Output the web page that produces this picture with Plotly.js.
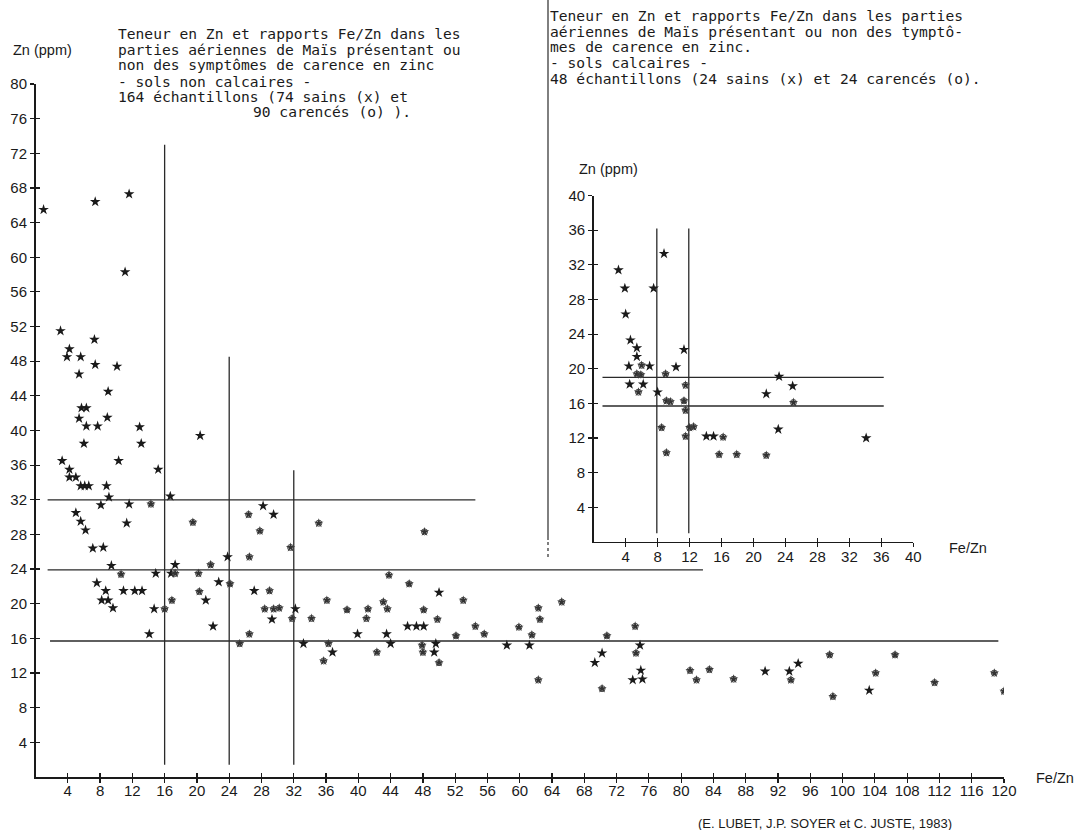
<!DOCTYPE html>
<html>
<head>
<meta charset="utf-8">
<script src="https://cdn.plot.ly/plotly-3.0.1.min.js"></script>
<style>html,body{margin:0;padding:0;background:#fff;}#chart{width:1078px;height:830px;}</style>
</head>
<body>
<div id="chart"></div>
<script>
// ---------- DATA : main chart (sols non calcaires) ----------
const mainSainsFeZn = [1.0,7.4,11.6,11.1,3.1,7.3,4.2,3.9,5.6,7.4,10.1,5.4,9.0,5.7,6.3,5.4,8.9,6.3,7.7,12.9,6.0,13.1,3.3,10.3,4.2,15.2,4.2,5.0,5.6,6.1,6.6,8.8,9.1,16.7,8.1,11.6,5.0,5.6,11.3,6.2,7.1,8.4,9.4,17.3,20.4,14.9,16.8,7.6,8.7,10.9,12.3,13.2,8.2,9.0,9.6,14.1,14.7,21.1,22.7,22.0,27.1,29.3,32.2,33.2,36.8,39.9,28.2,29.5,23.8,50.0,43.5,46.1,47.2,48.1,44.0,49.6,49.4,58.4,61.2,69.3,70.2,74.9,75.0,74.0,75.2,90.4,93.4,94.5,103.3];
const mainSainsZn   = [65.5,66.4,67.3,58.3,51.5,50.5,49.4,48.5,48.5,47.6,47.4,46.5,44.5,42.6,42.6,41.4,41.5,40.5,40.5,40.4,38.5,38.5,36.5,36.5,35.5,35.5,34.6,34.6,33.6,33.6,33.6,33.6,32.3,32.4,31.4,31.5,30.5,29.5,29.3,28.5,26.4,26.5,24.4,24.5,39.4,23.5,23.5,22.4,21.5,21.5,21.5,21.5,20.4,20.4,19.5,16.5,19.4,20.4,22.5,17.4,21.5,18.2,19.4,15.4,14.4,16.5,31.3,30.3,25.4,21.3,16.5,17.4,17.4,17.4,15.4,15.4,14.4,15.2,15.2,13.2,14.3,15.2,12.3,11.2,11.3,12.2,12.2,13.1,10.0];
const mainCarFeZn = [14.3,19.5,10.6,17.3,20.2,21.7,16.0,16.9,20.3,24.1,29.0,28.4,29.5,30.2,31.8,34.2,26.5,25.3,36.1,36.3,35.7,38.6,26.4,27.8,31.6,35.1,48.2,26.5,43.8,46.3,53.0,41.2,43.1,43.6,48.1,41.0,49.8,54.5,55.6,52.1,47.9,42.3,48.0,50.0,59.9,61.5,62.3,62.5,65.2,62.3,70.2,70.8,74.3,74.4,81.1,81.9,83.5,86.5,93.6,98.4,98.8,104.1,106.5,111.4,118.8,120.0];
const mainCarZn   = [31.5,29.4,23.4,23.5,23.5,24.5,19.4,20.4,21.4,22.3,21.5,19.4,19.4,19.5,18.3,18.3,16.5,15.4,20.4,15.4,13.4,19.3,30.3,28.4,26.5,29.3,28.3,25.4,23.3,22.3,20.4,19.4,20.2,19.4,19.3,18.3,18.2,17.4,16.5,16.3,15.2,14.4,14.4,13.2,17.3,16.4,19.5,18.2,20.2,11.2,10.2,16.3,17.4,14.3,12.3,11.2,12.4,11.3,11.2,14.1,9.3,12.0,14.1,10.9,12.0,9.9];
const mainXTicks = [4,8,12,16,20,24,28,32,36,40,44,48,52,56,60,64,68,72,76,80,84,88,92,96,100,104,108,112,116,120];
const mainYTicks = [4,8,12,16,20,24,28,32,36,40,44,48,52,56,60,64,68,72,76,80];
// threshold lines (main)
const mainVLineX = [16, 24, 32];
const mainVLineTop = [73, 48.5, 35.4];
const mainVLineBottom = [1.4, 1.4, 1.4];
const mainHLineY = [32, 23.9, 15.7];
const mainHLineStart = [1.5, 1.5, 1.8];
const mainHLineEnd = [54.5, 82.7, 119.3];

// ---------- DATA : inset chart (sols calcaires) ----------
const insetSainsFeZn = [8.8,3.1,3.9,7.5,4.0,4.6,5.4,5.4,4.4,7.0,10.3,11.3,4.5,6.2,8.0,14.1,15.0,21.6,23.2,24.9,23.1,34.1];
const insetSainsZn   = [33.3,31.4,29.3,29.3,26.3,23.3,22.4,21.4,20.3,20.3,20.2,22.2,18.2,18.2,17.3,12.2,12.2,17.1,19.1,18.0,13.0,12.0];
const insetCarFeZn = [6.0,5.4,5.9,9.0,5.6,11.5,9.1,9.6,11.3,11.5,8.5,12.0,12.5,11.5,9.1,16.2,15.7,17.9,21.6,25.0];
const insetCarZn   = [20.4,19.4,19.3,19.4,17.3,18.1,16.3,16.2,16.3,15.2,13.2,13.2,13.3,12.2,10.3,12.1,10.1,10.1,10.0,16.1];
const insetTicks = [4,8,12,16,20,24,28,32,36,40];
const insetVLineX = [7.9, 11.9];
const insetVLineTop = [36.2, 36.2];
const insetVLineBottom = [1, 1];
const insetHLineY = [19.0, 15.7];
const insetHLineStart = [1.1, 1.1];
const insetHLineEnd = [36.3, 36.3];

// ---------- TEXT ----------
const mainTitleLines = [
  "Teneur en Zn et rapports Fe/Zn dans les",
  "parties aériennes de Maïs présentant ou",
  "non des symptômes de carence en zinc",
  "- sols non calcaires -",
  "164 échantillons (74 sains (x) et",
  "90 carencés (o) )."
];
const insetTitleLines = [
  "Teneur en Zn et rapports Fe/Zn dans les parties",
  "aériennes de Maïs présentant ou non des tymptô-",
  "mes de carence en zinc.",
  "- sols calcaires -",
  "48 échantillons (24 sains (x) et 24 carencés (o)."
];
const citation = "(E. LUBET, J.P. SOYER et C. JUSTE, 1983)";
const yTitle = "Zn (ppm)";
const xTitle = "Fe/Zn";

// ---------- BUILD ----------
const W = 1078, H = 830;
const px = v => v / W;
const py = v => 1 - v / H;
const ink = '#1a1a1a';
const lineInk = '#2a2a2a';

const traces = [];
function refLines(xs, y0s, y1s, xa, ya, vertical) {
  xs.forEach((v, i) => {
    traces.push({
      type: 'scatter', mode: 'lines', xaxis: xa, yaxis: ya,
      x: vertical ? [v, v] : [y0s[i], y1s[i]],
      y: vertical ? [y0s[i], y1s[i]] : [v, v],
      line: {color: lineInk, width: 1.3}, hoverinfo: 'skip', showlegend: false
    });
  });
}
refLines(mainVLineX, mainVLineBottom, mainVLineTop, 'x', 'y', true);
refLines(mainHLineY, mainHLineStart, mainHLineEnd, 'x', 'y', false);
refLines(insetVLineX, insetVLineBottom, insetVLineTop, 'x2', 'y2', true);
refLines(insetHLineY, insetHLineStart, insetHLineEnd, 'x2', 'y2', false);

function sains(xs, ys, xa, ya) {
  traces.push({type:'scatter', mode:'markers', xaxis:xa, yaxis:ya, x:xs, y:ys,
    marker:{symbol:'star', size:8, color:ink, line:{width:0}}, showlegend:false, name:'sains'});
}
function carences(xs, ys, xa, ya) {
  traces.push({type:'scatter', mode:'markers', xaxis:xa, yaxis:ya, x:xs, y:ys,
    marker:{symbol:'star', size:7, color:'#333', line:{width:0}}, showlegend:false, name:'carencés'});
  traces.push({type:'scatter', mode:'markers', xaxis:xa, yaxis:ya, x:xs, y:ys,
    marker:{symbol:'circle-open', size:6, color:'#444', line:{width:1, color:'#444'}}, showlegend:false, hoverinfo:'skip'});
}
sains(mainSainsFeZn, mainSainsZn, 'x', 'y');
carences(mainCarFeZn, mainCarZn, 'x', 'y');
sains(insetSainsFeZn, insetSainsZn, 'x2', 'y2');
carences(insetCarFeZn, insetCarZn, 'x2', 'y2');
// carriers for the inner-tick overlay axes
traces.push({type:'scatter', mode:'markers', x:[null], y:[null], xaxis:'x3', yaxis:'y3', showlegend:false, hoverinfo:'skip'});
traces.push({type:'scatter', mode:'markers', x:[null], y:[null], xaxis:'x4', yaxis:'y4', showlegend:false, hoverinfo:'skip'});

const tickFont = {family:'Liberation Sans, Arial, sans-serif', size:15, color:ink};
const mainXDom = [px(35.5), px(1004)];
const mainYDom = [py(777), py(84)];
const insXDom = [px(593.7), px(913.3)];
const insYDom = [py(541.9), py(195.6)];

function baseAxis(dom, range, ticks, anchor, standoff) {
  return {domain: dom, range: range, anchor: anchor, tickmode:'array', tickvals: ticks,
    ticktext: ticks.map(String), showline:true, linecolor:ink, linewidth:1.5, ticks:'outside',
    ticklen:4, tickwidth:1.2, tickcolor:ink, showgrid:false, zeroline:false, tickfont:tickFont,
    ticklabelstandoff: standoff, fixedrange:true};
}
function innerAxis(over, dom, range, ticks, anchor, side) {
  return {overlaying: over, domain: dom, range: range, anchor: anchor, side: side, tickmode:'array',
    tickvals: ticks, showticklabels:false, showline:false, ticks:'inside', ticklen:4, tickwidth:1.2,
    tickcolor:ink, showgrid:false, zeroline:false, fixedrange:true};
}

const annotations = [];
const monoFont = {family:'DejaVu Sans Mono, Liberation Mono, monospace', size:14.6, color:ink};
const mainTitleY = [33, 50, 65, 81, 97, 112];
const mainTitleX = [117, 117, 117, 117, 117, 252];
mainTitleLines.forEach((t, i) => annotations.push({text:t, xref:'paper', yref:'paper',
  x:px(mainTitleX[i]) , y:py(mainTitleY[i]), xanchor:'left', yanchor:'middle', showarrow:false,
  font:monoFont, borderpad:0}));
const insetTitleY = [15, 31.7, 46.7, 62.7, 78.3];
insetTitleLines.forEach((t, i) => annotations.push({text:t, xref:'paper', yref:'paper',
  x:px(549), y:py(insetTitleY[i]), xanchor:'left', yanchor:'middle', showarrow:false,
  font:monoFont, borderpad:0}));
const labFont = {family:'Liberation Sans, Arial, sans-serif', size:14.5, color:ink};
annotations.push({text:yTitle, xref:'paper', yref:'paper', x:px(12), y:py(50), xanchor:'left', yanchor:'middle', showarrow:false, font:labFont, borderpad:0});
annotations.push({text:xTitle, xref:'paper', yref:'paper', x:px(1035), y:py(778), xanchor:'left', yanchor:'middle', showarrow:false, font:labFont, borderpad:0});
annotations.push({text:yTitle, xref:'paper', yref:'paper', x:px(578), y:py(169), xanchor:'left', yanchor:'middle', showarrow:false, font:labFont, borderpad:0});
annotations.push({text:xTitle, xref:'paper', yref:'paper', x:px(948), y:py(548), xanchor:'left', yanchor:'middle', showarrow:false, font:labFont, borderpad:0});
annotations.push({text:citation, xref:'paper', yref:'paper', x:px(697), y:py(823), xanchor:'left', yanchor:'middle', showarrow:false,
  font:{family:'Liberation Sans, Arial, sans-serif', size:13, color:ink}, borderpad:0});

const layout = {
  width: W, height: H,
  margin: {l:0, r:0, t:0, b:0, pad:0},
  paper_bgcolor:'#ffffff', plot_bgcolor:'rgba(0,0,0,0)',
  showlegend:false,
  xaxis: baseAxis(mainXDom, [0,120], mainXTicks, 'y', -5),
  yaxis: baseAxis(mainYDom, [0,80], mainYTicks, 'x', 0),
  xaxis2: baseAxis(insXDom, [0,40], insetTicks, 'y2', -3),
  yaxis2: baseAxis(insYDom, [0,40], insetTicks, 'x2', 0),
  xaxis3: innerAxis('x', mainXDom, [0,120], mainXTicks, 'y3', 'bottom'),
  yaxis3: innerAxis('y', mainYDom, [0,80], mainYTicks, 'x3', 'left'),
  xaxis4: innerAxis('x2', insXDom, [0,40], insetTicks, 'y4', 'bottom'),
  yaxis4: innerAxis('y2', insYDom, [0,40], insetTicks, 'x4', 'left'),
  annotations: annotations,
  shapes: [
    {type:'line', xref:'paper', yref:'paper', x0:px(548), x1:px(548), y0:py(0), y1:py(540), line:{color:lineInk, width:1.2}},
    {type:'line', xref:'paper', yref:'paper', x0:px(548), x1:px(548), y0:py(542), y1:py(560), line:{color:lineInk, width:1.2, dash:'dot'}}
  ]
};

Plotly.newPlot('chart', traces, layout, {displayModeBar:false, staticPlot:true});
</script>
</body>
</html>
